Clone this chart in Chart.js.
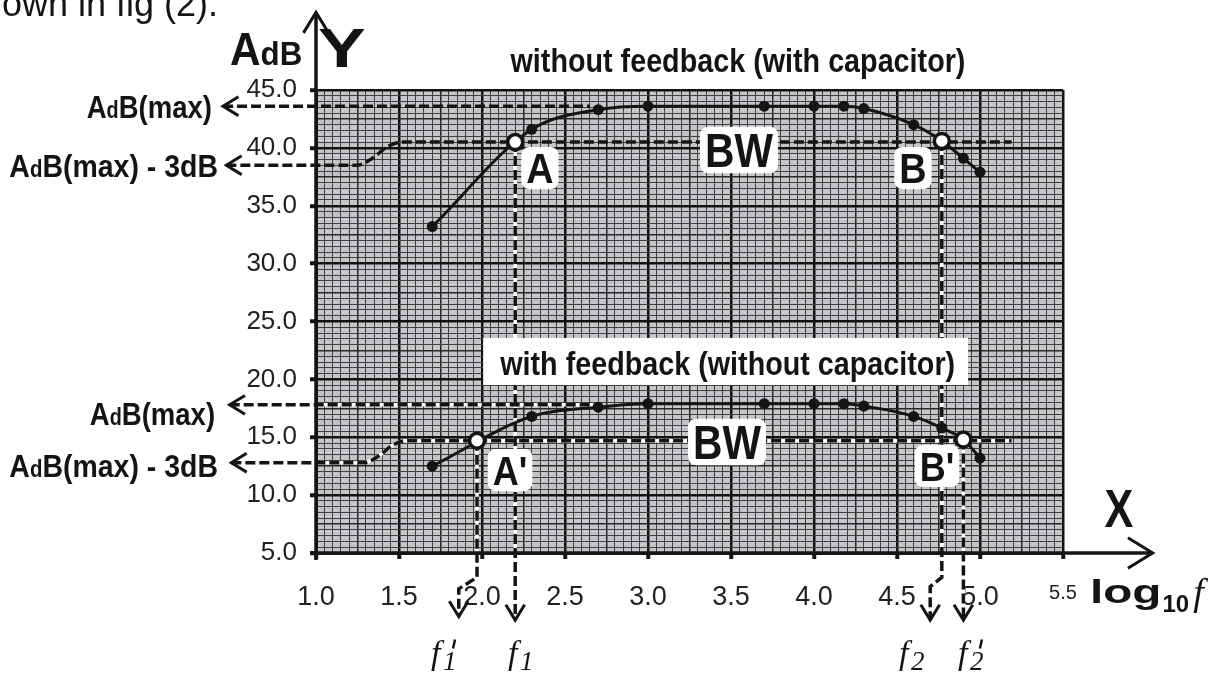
<!DOCTYPE html>
<html>
<head>
<meta charset="utf-8">
<title>Gain vs log10 f</title>
<script src="https://cdn.jsdelivr.net/npm/chart.js@4.4.1/dist/chart.umd.min.js"></script>
<style>
html,body{margin:0;background:#fff;overflow:hidden}
canvas{display:block}
</style>
</head>
<body>
<canvas id="chart" width="1230" height="673"></canvas>
<script>
// measured points, x = log10(f), y = gain in dB
const logF = [1.7, 2.3, 2.7, 3.0, 3.7, 4.0, 4.18, 4.3, 4.6, 4.77, 4.9, 5.0];
const gainNoFeedback = [33.2, 41.6, 43.3, 43.6, 43.6, 43.6, 43.6, 43.4, 42.0, 40.6, 39.1, 37.9];
const gainFeedback = [12.5, 16.8, 17.6, 17.9, 17.9, 17.9, 17.9, 17.7, 16.8, 15.8, 14.8, 13.2];

// -3dB crossings A, B, A', B'
const cutNames = ["A", "B", "A'", "B'"];
const cutLogF = [2.2, 4.77, 1.97, 4.9];
const cutGain = [40.5, 40.6, 14.7, 14.8];
const freqSubs = ["1", "2", "1", "2"];      // f1, f2, f1', f2'
const freqPrimed = [false, false, true, true];

// reference levels (upper curve, lower curve)
const maxGain = [43.6, 17.8];
const bwGain = [40.5, 14.7];
const leftGain3dB = [38.5, 12.8];

const xMajorTicks = [1.0, 1.5, 2.0, 2.5, 3.0, 3.5, 4.0, 4.5, 5.0, 5.5];
const yMajorTicks = [5, 10, 15, 20, 25, 30, 35, 40, 45];

const INK = "#141414";
const SANS = '"Liberation Sans", Arial, sans-serif';
const SERIF = '"Liberation Serif", "Times New Roman", serif';
const bold = n => `bold ${n}px ${SANS}`;

const near = (a, b) => Math.abs(a - b) < 1e-6;
const isMajorX = v => xMajorTicks.some(t => near(t, v));
const isMidX = v => near(v * 4, Math.round(v * 4));
const isMajorY = v => yMajorTicks.some(t => near(t, v));
const isMidY = v => near(v / 2.5, Math.round(v / 2.5));

// dashed guide lines (axis units); arrow drawn at the given end
const guides = [
  { pts: [[0.44, maxGain[0]], [2.65, maxGain[0]]], arrow: "start" },
  { pts: [[0.46, leftGain3dB[0]], [1.25, leftGain3dB[0]], [1.34, 39.1], [1.43, 40.1], [1.52, bwGain[0]], [5.19, bwGain[0]]], arrow: "start", curve: true },
  { pts: [[0.48, maxGain[1]], [2.68, maxGain[1]]], arrow: "start", under: true },
  { pts: [[0.49, leftGain3dB[1]], [1.29, leftGain3dB[1]], [1.38, 13.4], [1.46, 14.3], [1.54, bwGain[1]], [5.19, bwGain[1]]], arrow: "start", curve: true, under: true },
  { pts: [[cutLogF[0], cutGain[0]], [cutLogF[0], -0.8]], arrow: "end", under: true },
  { pts: [[cutLogF[1], cutGain[1]], [cutLogF[1], 2.9], [4.70, 2.1], [4.70, -0.8]], arrow: "end", under: true },
  { pts: [[cutLogF[2], cutGain[2]], [cutLogF[2], 2.9], [1.86, 1.9], [1.86, -0.5]], arrow: "end", under: true },
  { pts: [[cutLogF[3], cutGain[3]], [cutLogF[3], -0.8]], arrow: "end", under: true },
];

const datasets = [];
datasets.push({
  data: cutLogF.map((x, i) => ({ x, y: cutGain[i] })),
  showLine: false, pointRadius: 7.5, pointBackgroundColor: "#fff",
  pointBorderColor: INK, pointBorderWidth: 3.5, order: 0
});
[gainNoFeedback, gainFeedback].forEach(g => datasets.push({
  data: logF.map((x, i) => ({ x, y: g[i] })),
  borderColor: INK, borderWidth: 3, pointRadius: 5.5,
  pointBackgroundColor: INK, pointBorderColor: INK, pointBorderWidth: 0,
  cubicInterpolationMode: "monotone", order: 1
}));
guides.forEach(gd => {
  const common = {
    data: gd.pts.map(([x, y]) => ({ x, y })),
    pointRadius: 0, clip: false, borderWidth: 3.5, tension: 0,
    cubicInterpolationMode: gd.curve ? "monotone" : "default", capBezierPoints: false
  };
  if (gd.under) datasets.push({ ...common, borderColor: "#fff", order: 3 });
  datasets.push({ ...common, borderColor: INK, borderDash: [10, 4], order: 2, arrowAt: gd.arrow });
});

// text helpers
function measure(ctx, parts) {
  let w = 0;
  parts.forEach(p => { ctx.font = p[1]; w += ctx.measureText(p[0]).width; });
  return w;
}
function drawText(ctx, parts, x, y, align, sx) {
  const w = measure(ctx, parts) * sx;
  const left = align === "center" ? x - w / 2 : align === "right" ? x - w : x;
  ctx.save();
  ctx.translate(left, y);
  ctx.scale(sx, 1);
  let cx = 0;
  parts.forEach(p => { ctx.font = p[1]; ctx.fillText(p[0], cx, p[2] || 0); cx += ctx.measureText(p[0]).width; });
  ctx.restore();
  return { left, width: w };
}
function boxLabel(ctx, parts, cx, cy, size, sx) {
  const cap = size * 0.72, pad = 5;
  const w = measure(ctx, parts) * sx;
  ctx.fillStyle = "#fff";
  ctx.beginPath();
  ctx.roundRect(cx - w / 2 - pad, cy - cap / 2 - pad - 1, w + 2 * pad, cap + 2 * pad + 2, 8);
  ctx.fill();
  ctx.fillStyle = INK;
  drawText(ctx, parts, cx, cy + cap / 2, "center", sx);
}
function arrowHead(ctx, x0, y0, x1, y1, len, spread) {
  const a = Math.atan2(y1 - y0, x1 - x0);
  ctx.beginPath();
  ctx.moveTo(x1 - len * Math.cos(a - spread), y1 - len * Math.sin(a - spread));
  ctx.lineTo(x1, y1);
  ctx.lineTo(x1 - len * Math.cos(a + spread), y1 - len * Math.sin(a + spread));
  ctx.stroke();
}

// label anchors, in axis units
const boxAnchors = [[2.349, 38.26], [4.596, 38.26], [2.169, 12.17], [4.741, 12.52]];
const bwAnchors = [[3.548, 39.82], [3.476, 14.59]];
const leftLabelAnchors = [[0.373, 42.58], [0.41, 37.48], [0.392, 16.06], [0.41, 11.57]];
const freqLabelX = [2.157, 4.512, 1.693, 4.867];
const freqLabelY = -4.55;

const schematic = {
  id: "schematic",
  beforeDraw(chart) {
    const { ctx, chartArea: a } = chart;
    ctx.save();
    ctx.fillStyle = "#fff";
    ctx.fillRect(0, 0, chart.width, chart.height);
    ctx.fillStyle = "#c6c5ca";
    ctx.fillRect(a.left, a.top, a.right - a.left, a.bottom - a.top);
    ctx.restore();
  },
  afterDatasetsDraw(chart) {
    const { ctx } = chart;
    const X = v => chart.scales.x.getPixelForValue(v);
    const Y = v => chart.scales.y.getPixelForValue(v);
    ctx.save();
    ctx.strokeStyle = INK;
    ctx.fillStyle = INK;
    ctx.lineWidth = 3;
    ctx.setLineDash([]);
    ctx.textBaseline = "alphabetic";

    chart.data.datasets.forEach((ds, i) => {
      if (!ds.arrowAt) return;
      const d = chart.getDatasetMeta(i).data;
      const [tip, prev] = ds.arrowAt === "start" ? [d[0], d[1]] : [d[d.length - 1], d[d.length - 2]];
      arrowHead(ctx, prev.x, prev.y, tip.x, tip.y, 18, 0.55);
    });

    // cropped line of the page above the figure
    drawText(ctx, [["shown in fig (2).", `36px ${SANS}`]], X(0.41), Y(51.35), "right", 1);

    drawText(ctx, [["without feedback (with capacitor)", bold(34)]], X(3.542), Y(46.56), "center", 0.845);
    // lower title on a white strip
    const tParts = [["with feedback (without capacitor)", bold(34)]];
    const tw = measure(ctx, tParts) * 0.845;
    const tx = X(3.48), ty = Y(20.38);
    ctx.fillStyle = "#fff";
    ctx.fillRect(tx - tw / 2 - 17, ty - 37, tw + 30, 47);
    ctx.fillStyle = INK;
    drawText(ctx, tParts, tx, ty, "center", 0.845);

    cutNames.forEach((n, i) => {
      const parts = n.length > 1 ? [[n[0], bold(40)], ["'", bold(40)]] : [[n, bold(42)]];
      boxLabel(ctx, parts, X(boxAnchors[i][0]), Y(boxAnchors[i][1]), 42, 0.9);
    });
    bwAnchors.forEach(p => boxLabel(ctx, [["BW", bold(48)]], X(p[0]), Y(p[1]), 48, 0.85));

    const maxParts = [["A", bold(32)], ["d", bold(23)], ["B(max)", bold(32)]];
    const minusParts = maxParts.concat([[" - 3dB", bold(32)]]);
    [maxParts, minusParts, maxParts, minusParts].forEach((parts, i) => {
      drawText(ctx, parts, X(leftLabelAnchors[i][0]), Y(leftLabelAnchors[i][1]), "right", parts.length > 3 ? 0.89 : 0.86);
    });

    // axis titles
    drawText(ctx, [["A", bold(46)], ["dB", bold(34)]], X(0.482), Y(47.16), "left", 0.92);
    drawText(ctx, [["Y", bold(55)]], X(1.012), Y(46.99), "left", 1.3);
    drawText(ctx, [["X", bold(54)]], X(5.837), Y(7.25), "center", 0.8);
    const lg = drawText(ctx, [["log", bold(34)]], X(5.663), Y(0.68), "left", 1.4);
    const sub = drawText(ctx, [["10", bold(24)]], lg.left + lg.width + 1, Y(0.68) + 9, "left", 1);
    drawText(ctx, [["f", `italic 38px ${SERIF}`]], sub.left + sub.width + 4, Y(0.68) + 2, "left", 1);

    // f1, f2, f1', f2'
    freqLabelX.forEach((fx, i) => {
      const x = X(fx), y = Y(freqLabelY);
      ctx.font = `italic 34px ${SERIF}`;
      ctx.fillText("f", x, y);
      ctx.font = `italic 27px ${SERIF}`;
      ctx.fillText(freqSubs[i], x + 12, y + 6);
      if (freqPrimed[i]) {
        ctx.lineWidth = 2.5;
        ctx.beginPath();
        ctx.moveTo(x + 24, y - 24);
        ctx.lineTo(x + 22, y - 15);
        ctx.stroke();
      }
    });
    ctx.restore();
  },
  afterDraw(chart) {
    const { ctx } = chart;
    const X = v => chart.scales.x.getPixelForValue(v);
    const Y = v => chart.scales.y.getPixelForValue(v);
    ctx.save();
    ctx.strokeStyle = INK;
    ctx.lineWidth = 3.5;
    ctx.beginPath();
    ctx.moveTo(X(1), Y(5) + 7);
    ctx.lineTo(X(1), Y(51.7));
    ctx.moveTo(X(1) - 6, Y(5));
    ctx.lineTo(X(6.04), Y(5));
    ctx.stroke();
    ctx.lineWidth = 3;
    arrowHead(ctx, X(1), Y(45), X(1), Y(51.7), 24, 0.55);
    arrowHead(ctx, X(5.5), Y(5), X(6.04), Y(5), 29, 0.55);
    ctx.restore();
  }
};

new Chart(document.getElementById("chart"), {
  type: "line",
  data: { datasets },
  plugins: [schematic],
  options: {
    responsive: false,
    animation: false,
    devicePixelRatio: 1,
    events: [],
    layout: { padding: { left: 246, right: 167, top: 90, bottom: 50 } },
    plugins: { legend: { display: false }, tooltip: { enabled: false } },
    scales: {
      x: {
        type: "linear", min: 1, max: 5.5,
        afterFit: s => { s.height = 70; },
        border: { display: true, color: INK, width: 3 },
        grid: {
          color: c => isMajorX(c.tick.value) ? "#111" : isMidX(c.tick.value) ? "#262626" : "#404040",
          lineWidth: c => isMajorX(c.tick.value) ? 2.5 : isMidX(c.tick.value) ? 1.5 : 1,
          tickColor: c => isMajorX(c.tick.value) ? INK : "rgba(0,0,0,0)",
          tickWidth: 4, tickLength: 6
        },
        ticks: {
          stepSize: 0.05, maxTicksLimit: 1000, autoSkip: false,
          maxRotation: 0, minRotation: 0, padding: 22, color: "#222",
          font: c => ({ family: SANS, size: c.tick && near(c.tick.value, 5.5) ? 20 : 27 }),
          callback: v => isMajorX(v) ? v.toFixed(1) : ""
        }
      },
      y: {
        type: "linear", min: 5, max: 45,
        afterFit: s => { s.width = 70; },
        border: { display: true, color: INK, width: 3 },
        grid: {
          color: c => isMajorY(c.tick.value) ? "#111" : isMidY(c.tick.value) ? "#262626" : "#404040",
          lineWidth: c => isMajorY(c.tick.value) ? 2.5 : isMidY(c.tick.value) ? 1.5 : 1,
          tickColor: c => isMajorY(c.tick.value) ? INK : "rgba(0,0,0,0)",
          tickWidth: 4, tickLength: 6
        },
        ticks: {
          stepSize: 0.5, maxTicksLimit: 1000, autoSkip: false,
          padding: 13, color: "#222",
          font: { family: SANS, size: 26 },
          callback: v => isMajorY(v) ? v.toFixed(1) : ""
        }
      }
    }
  }
});
</script>
</body>
</html>
